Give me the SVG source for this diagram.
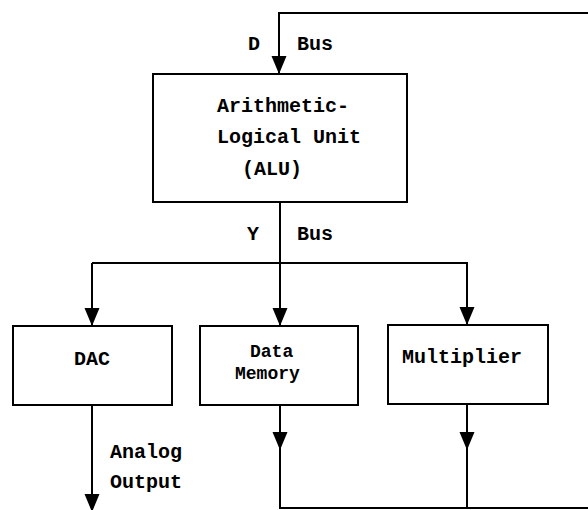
<svg xmlns="http://www.w3.org/2000/svg" width="588" height="510" viewBox="0 0 588 510">
<defs>
<style>
.box{fill:#fff;stroke:#000;stroke-width:2}
.ln{fill:none;stroke:#000;stroke-width:2}
.t{font-family:"Liberation Mono","Courier New",monospace;font-weight:bold;font-size:20px;fill:#000}
.s{font-size:18px}
</style>
<marker id="ah" markerUnits="userSpaceOnUse" markerWidth="19" markerHeight="16" refX="18" refY="8" orient="auto" viewBox="0 0 19 16">
<path d="M0,0.5 L18,8 L0,15.5 Z" fill="#000"/>
</marker>
</defs>
<rect width="588" height="510" fill="#fff"/>
<g id="connectors">
<path class="ln" d="M588,13 L279,13 L279,74" marker-end="url(#ah)"/>
<path class="ln" d="M280,202 L280,326" marker-end="url(#ah)"/>
<path class="ln" d="M92,263 L467,263 L467,325" marker-end="url(#ah)"/>
<path class="ln" d="M92,263 L92,326" marker-end="url(#ah)"/>
<path class="ln" d="M92,405 L92,512" marker-end="url(#ah)"/>
<path class="ln" d="M280,405 L280,450" marker-end="url(#ah)"/>
<path class="ln" d="M280,448 L280,508 L588,508"/>
<path class="ln" d="M467,404 L467,450" marker-end="url(#ah)"/>
<path class="ln" d="M467,448 L467,508"/>
<text class="t" x="248" y="50">D</text>
<text class="t" x="297" y="50">Bus</text>
<text class="t" x="247" y="240">Y</text>
<text class="t" x="297" y="240">Bus</text>
<text class="t" x="110" y="458">Analog</text>
<text class="t" x="110" y="488">Output</text>
</g>
<g id="alu">
<rect class="box" x="153" y="74" width="254" height="128"/>
<text class="t" x="217" y="112">Arithmetic-</text>
<text class="t" x="217" y="143">Logical Unit</text>
<text class="t" x="242" y="175">(ALU)</text>
</g>
<g id="dac">
<rect class="box" x="13" y="326" width="159" height="79"/>
<text class="t" x="92" y="365" text-anchor="middle">DAC</text>
</g>
<g id="data-memory">
<rect class="box" x="200" y="326" width="158" height="79"/>
<text class="t s" x="250" y="357">Data</text>
<text class="t s" x="235" y="379">Memory</text>
</g>
<g id="multiplier">
<rect class="box" x="388" y="325" width="160" height="79"/>
<text class="t" x="402" y="363">Multiplier</text>
</g>
</svg>
